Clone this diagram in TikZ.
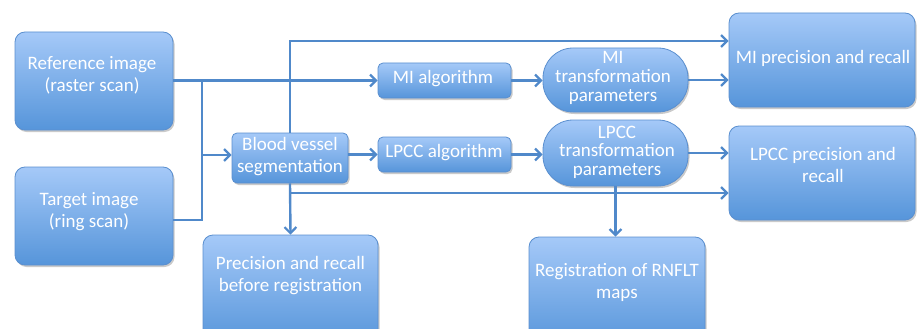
\documentclass[tikz,border=0pt]{standalone}
\usepackage{fontspec}
\setmainfont{Carlito}
\usetikzlibrary{arrows.meta,shadows,calc}
\definecolor{boxtop}{HTML}{A5C9F8}
\definecolor{boxbot}{HTML}{5695DA}
\definecolor{boxedge}{HTML}{5A8FCF}
\definecolor{linec}{HTML}{5089CA}
\tikzset{
  box/.style={draw=boxedge, line width=0.8pt, top color=boxtop, bottom color=boxbot,
    rounded corners=10pt, drop shadow={shadow xshift=1.5pt, shadow yshift=-2pt, opacity=0.35, fill=black!60},
    inner sep=0pt},
  smallbox/.style={box, rounded corners=5pt},
  pill/.style={box, rounded corners=30pt},
  txt/.style={text=white, align=center, font=\fontsize{19}{22}\selectfont, inner sep=0pt},
  conn/.style={draw=linec, line width=2.4pt},
  arr/.style={conn, -{Straight Barb[length=6pt,width=12pt,line width=2.2pt]}},
}
\begin{document}
\begin{tikzpicture}[x=1pt,y=-1pt]
\path[use as bounding box] (0,0) rectangle (921,329);
\clip (0,0) rectangle (921,329);
% boxes
\node[box, minimum width=158pt, minimum height=98pt] (ref) at (94,81) {};
\node[box, minimum width=158pt, minimum height=98pt] (tgt) at (94,216) {};
\node[smallbox, minimum width=116pt, minimum height=50pt] (bvs) at (290,158) {};
\node[smallbox, minimum width=133pt, minimum height=35pt] (mia) at (444.5,80.5) {};
\node[smallbox, minimum width=133pt, minimum height=35pt] (lpa) at (444.5,154.5) {};
\node[pill, minimum width=145pt, minimum height=64pt] (mit) at (615.5,80) {};
\node[pill, minimum width=145pt, minimum height=66pt] (lpt) at (615.5,153) {};
\node[box, minimum width=186pt, minimum height=94pt] (mip) at (822,60) {};
\node[box, minimum width=186pt, minimum height=94pt] (lpp) at (822,173) {};
\node[box, minimum width=175pt, minimum height=110pt] (pbr) at (290.5,290) {};
\node[box, minimum width=176pt, minimum height=110pt] (rnf) at (617,292) {};
% texts
\node[txt] (t1) at (92,75) {Reference image\\(raster scan)};
\node[txt] (t2) at (89,212) {Target image\\(ring scan)};
\node[txt] (t3) at (290,157) {Blood vessel\\segmentation};
\node[txt] (t4) at (443,79) {MI algorithm};
\node[txt] (t5) at (444,153) {LPCC algorithm};
\node[txt, font=\fontsize{19}{19}\selectfont] (t6) at (613,78) {MI\\transformation\\parameters};
\node[txt, font=\fontsize{19}{18.5}\selectfont] (t7) at (617,152) {LPCC\\transformation\\parameters};
\node[txt] (t8) at (823,58) {MI precision and recall};
\node[txt] (t9) at (823,165) {LPCC precision and\\recall};
\node[txt] (t10) at (290.5,276) {Precision and recall\\before registration};
\node[txt] (t11) at (617,282) {Registration of RNFLT\\maps};
% connectors
\coordinate (j1) at (202,80.5);
\coordinate (j2) at (202,220);
\coordinate (j3) at (202,155);
\coordinate (up) at (290,41);
\coordinate (dn) at (290,193);
\draw[arr] (ref.east |- j1) -- (mia.west |- j1);
\draw[conn] (tgt.east |- j2) -- (j2) -- (j1);
\draw[arr] (j3) -- (bvs.west |- j3);
\draw[arr] (bvs.north -| up) -- (up) -- (mip.west |- up);
\draw[arr] (bvs.south) -- (pbr.north);
\draw[arr] (dn) -- (lpp.west |- dn);
\draw[arr] (bvs.east |- lpa) -- (lpa.west);
\draw[arr] (mia.east) -- (mit.west |- mia.east);
\draw[arr] (mit.east) -- (mip.west |- mit.east);
\draw[arr] (lpa.east) -- (lpt.west |- lpa.east);
\draw[arr] (lpt.east) -- (lpp.west |- lpt.east);
\draw[arr] (lpt.south) -- (rnf.north -| lpt.south);
\end{tikzpicture}
\end{document}
